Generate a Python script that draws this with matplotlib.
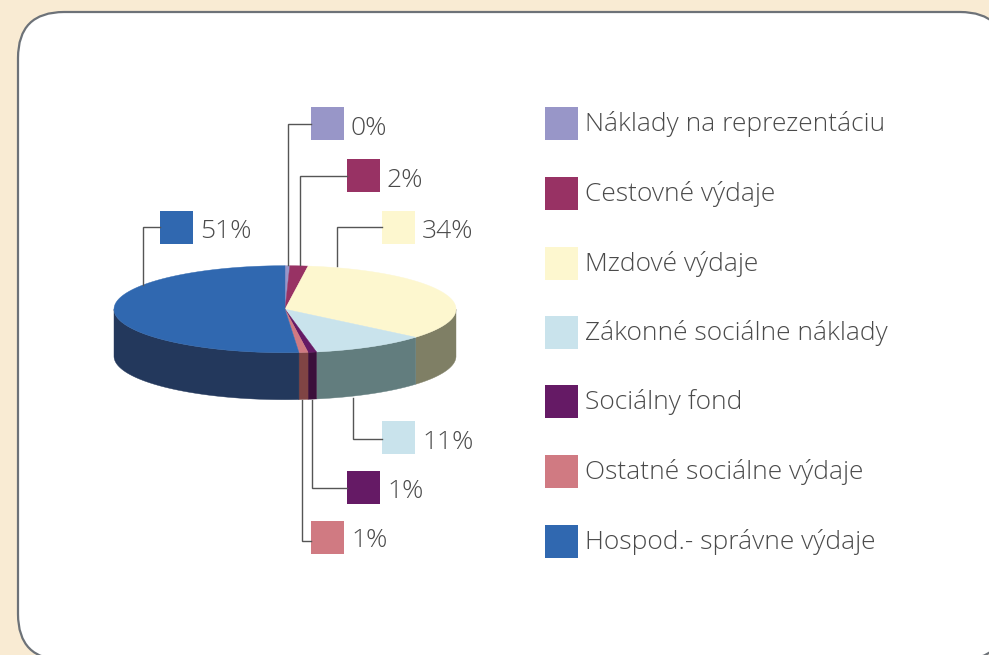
import numpy as np
from matplotlib import pyplot as plt
from matplotlib.patches import FancyBboxPatch, Rectangle

categories = ['Náklady na reprezentáciu', 'Cestovné výdaje', 'Mzdové výdaje',
              'Zákonné sociálne náklady', 'Sociálny fond',
              'Ostatné sociálne výdaje', 'Hospod.- správne výdaje']
values = [0.45, 1.7, 34.0, 10.9, 0.8, 0.85, 51.3]
pct_labels = ['0%', '2%', '34%', '11%', '1%', '1%', '51%']
colors = ['#9896c8', '#983264', '#fdf7cf', '#c9e3ec', '#651a65', '#d07a82', '#3068b0']
wall_colors = ['#5c5b7a', '#5c1e3d', '#7f7f65', '#627d7e', '#3b0f3b', '#804444', '#23385c']

plt.rcParams['font.family'] = ['Open Sans', 'DejaVu Sans']

fig = plt.figure(figsize=(9.89, 6.55), dpi=100, facecolor='#f9ebd3')
ax = fig.add_axes([0, 0, 1, 1])
ax.set_xlim(0, 989)
ax.set_ylim(655, 0)
ax.axis('off')

# background card, runs off the right and bottom edge
ax.add_patch(FancyBboxPatch((18 + 46, 12 + 46), 988 - 92, 648 - 92,
                            boxstyle='round,pad=46,rounding_size=46',
                            fc='white', ec='#6d7278', lw=1.6))

# pie geometry in pixels
cx, cy, rx, ry, depth = 285, 309.2, 171, 43.5, 47

def ellipse(t):
    return cx + rx * np.sin(t), cy - ry * np.cos(t)

fracs = np.array(values) / sum(values)
edges = np.concatenate([[0], np.cumsum(fracs)]) * 2 * np.pi

# side wall, front half only
for i in range(len(values)):
    a = max(edges[i], np.pi / 2)
    b = min(edges[i + 1], 3 * np.pi / 2)
    if b <= a:
        continue
    t = np.linspace(a, b, 80)
    x, y = ellipse(t)
    ax.fill(np.r_[x, x[::-1]], np.r_[y, y[::-1] + depth], color=wall_colors[i], lw=0.3)

# top face
for i in range(len(values)):
    t = np.linspace(edges[i], edges[i + 1], 200)
    x, y = ellipse(t)
    ax.fill(np.r_[cx, x], np.r_[cy, y], color=colors[i], lw=0.3)

# leader lines and value swatches
swatch = 33
label_x = [311, 347, 382, 382, 347, 311, 160]
label_y = [107, 159, 211, 421, 471, 521, 211]
leader_x = [287.5, 300, 337, 353, 312, 302, 143]
leader_y = [265, 265, 266, 398, 400, 400, 285]
bend_y = [124, 175.5, 227, 439, 488, 540.5, 227]
base_y = [135, 187, 238, 449, 498, 547, 238]

for i in range(len(values)):
    ax.plot([leader_x[i], leader_x[i], label_x[i]], [leader_y[i], bend_y[i], bend_y[i]],
            color='#555555', lw=1.0, solid_joinstyle='miter')
    ax.add_patch(Rectangle((label_x[i], label_y[i]), swatch, swatch, fc=colors[i], ec='none'))
    ax.text(label_x[i] + swatch + 7, base_y[i], pct_labels[i], fontsize=19,
            fontweight='light', color='#4a4a4a', va='baseline', ha='left')

# legend
legend_y = [107, 177, 247, 316, 385, 455, 525]
for i in range(len(categories)):
    ax.add_patch(Rectangle((545, legend_y[i]), swatch, swatch, fc=colors[i], ec='none'))
    ax.text(585, legend_y[i] + 24, categories[i], fontsize=19, fontweight='light',
            color='#4a4a4a', va='baseline', ha='left')

fig.savefig('out.png', dpi=100, facecolor=fig.get_facecolor())
